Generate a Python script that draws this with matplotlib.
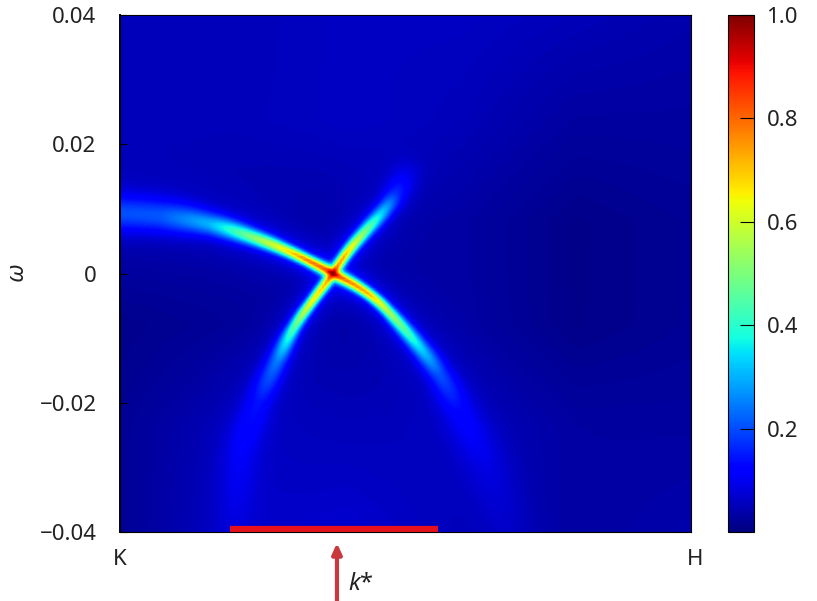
import numpy as np
import matplotlib
matplotlib.use('Agg')
import matplotlib.pyplot as plt
from matplotlib.transforms import ScaledTranslation

plt.rcParams['font.family'] = ['Noto Sans', 'DejaVu Sans']
plt.rcParams['mathtext.fontset'] = 'custom'
plt.rcParams['mathtext.it'] = 'Noto Sans:italic'
plt.rcParams['mathtext.rm'] = 'Noto Sans'

# Shallow band
band_a_k = [0, .070, .158, .228, .292, .327, .373, .438, .468, .525, .560, .595, .648, .683]
band_a_w = [.00936, .00905, .00781, .0058, .00364, .00209, 0, -.00302, -.00565, -.01137, -.0154, -.0211, -.0304, -.04]
band_a_height = [.17, .18, .28, .48, .66, .78, .80, .72, .56, .32, .17, .08, .04, .02]
band_a_width = [13, 12, 8, 5.5, 4, 3.5, 4, 3.5, 4, 6, 8, 12, 16, 18]

# Steep band
band_b_k = [.196, .210, .242, .275, .303, .333, .373, .390, .426, .468, .482, .500]
band_b_w = [-.04, -.0273, -.0196, -.0134, -.0083, -.0046, 0, .0026, .0063, .0103, .0121, .0152]
band_b_height = [.02, .06, .10, .22, .44, .64, .72, .72, .50, .25, .14, .05]
band_b_width = [15, 13, 10, 7, 4.5, 3.5, 3.5, 3.5, 4.5, 6, 8, 11]

# Background level on a coarse grid (rows from omega = -0.04 up to 0.04)
bg_k = [0, .2, .4, .6, .8, 1]
bg_w = [-.04, -.024, -.008, .008, .024, .04]
bg_levels = [[.02, .06, .07, .05, .03, .04],
             [.02, .05, .05, .05, .03, .03],
             [.01, .02, .03, .03, .01, .02],
             [.03, .03, .03, .03, .01, .02],
             [.05, .05, .06, .05, .03, .03],
             [.05, .05, .06, .06, .05, .04]]

k_ticks = [0, 1]
k_labels = ['K', 'H']
w_ticks = [-.04, -.02, 0, .02, .04]
w_labels = ['\u22120.04', '\u22120.02', '0', '0.02', '0.04']
cbar_ticks = [.2, .4, .6, .8, 1.0]
range_k = [.193, .557]
k_star = .38

# pixels per unit on each axis, distances are worked out on screen
sx, sy = 571, 517 / .08
grid_k, grid_w = np.meshgrid(np.linspace(0, 1, 190), np.linspace(-.04, .04, 172))


def smooth(v, n=45):
    padded = np.r_[np.full(n, v[0]) + (v[0] - v[n:0:-1]), v, np.full(n, v[-1]) + (v[-1] - v[-2:-n - 2:-1])]
    return np.convolve(padded, np.ones(n) / n, mode='same')[n:-n]


def ridge(ks, ws, heights, widths):
    ks, ws = np.array(ks), np.array(ws)
    arc = np.r_[0, np.cumsum(np.hypot(np.diff(ks) * sx, np.diff(ws) * sy))]
    s = np.linspace(0, arc[-1], 500)
    rk, rw = smooth(np.interp(s, arc, ks)), smooth(np.interp(s, arc, ws))
    rh, rs = np.interp(s, arc, heights), np.interp(s, arc, widths)
    d2 = ((grid_k[..., None] - rk) * sx) ** 2 + ((grid_w[..., None] - rw) * sy) ** 2
    # narrow core with a soft halo around it
    profile = .78 * np.exp(-d2 / (2 * rs ** 2)) + .22 / (1 + d2 / (2.5 * rs) ** 2)
    return (rh * profile).max(axis=2)


# bilinear upsample of the background table
rows = np.array([np.interp(grid_k[0], bg_k, r) for r in bg_levels])
background = np.array([np.interp(grid_w[:, 0], bg_w, rows[:, j]) for j in range(rows.shape[1])]).T

a = ridge(band_a_k, band_a_w, band_a_height, band_a_width)
b = ridge(band_b_k, band_b_w, band_b_height, band_b_width)
spectrum = background + np.maximum(a, b) + .3 * np.minimum(a, b)

fig = plt.figure(figsize=(8.17, 6.01), dpi=100)
ax = fig.add_axes([120 / 817, 1 - 532 / 601, 571 / 817, 517 / 601])
im = ax.imshow(spectrum, origin='lower', extent=[0, 1, -.04, .04], aspect='auto',
               cmap='jet', vmin=0, vmax=1, interpolation='bilinear')

ax.set_xticks(k_ticks, k_labels)
ax.set_yticks(w_ticks, w_labels)
ax.tick_params(axis='x', length=0, labelsize=16, pad=12, colors='#222222')
ax.tick_params(axis='y', length=5, width=.8, direction='in', labelsize=16, pad=17, labelcolor='#222222')
ax.set_ylabel('$\\omega$', fontsize=17, labelpad=7, color='#222222')
for spine in ax.spines.values():
    spine.set_linewidth(.8)
ax.spines['left'].set_linewidth(1.4)

# H sits a little right of the corner in the original
h_label = ax.get_xticklabels()[1]
h_label.set_transform(h_label.get_transform() + ScaledTranslation(.04, 0, fig.dpi_scale_trans))

# red range along the bottom
ax.plot(range_k, [-.0395, -.0395], color='#e8101c', lw=4.5, solid_capstyle='butt', clip_on=True)

# k* arrow below the axis
ax.annotate('', xy=(k_star, -.0417), xytext=(k_star, -.0507), annotation_clip=False,
            arrowprops=dict(arrowstyle='-|>,head_width=.28,head_length=.62', color='#c8383c', lw=3,
                            shrinkA=0, shrinkB=0))
ax.text(k_star + .02, -.0481, '$k$*', fontsize=17, ha='left', va='center', color='#222222')

cax = fig.add_axes([728 / 817, 1 - 532 / 601, 26 / 817, 517 / 601])
cbar = fig.colorbar(im, cax=cax, ticks=cbar_ticks)
cbar.ax.tick_params(length=10, width=.8, direction='in', labelsize=16, pad=9, labelcolor='#222222')
cbar.ax.set_yticklabels(['0.2', '0.4', '0.6', '0.8', '1.0'])
cbar.outline.set_linewidth(.8)

plt.savefig('out.png', dpi=100)
